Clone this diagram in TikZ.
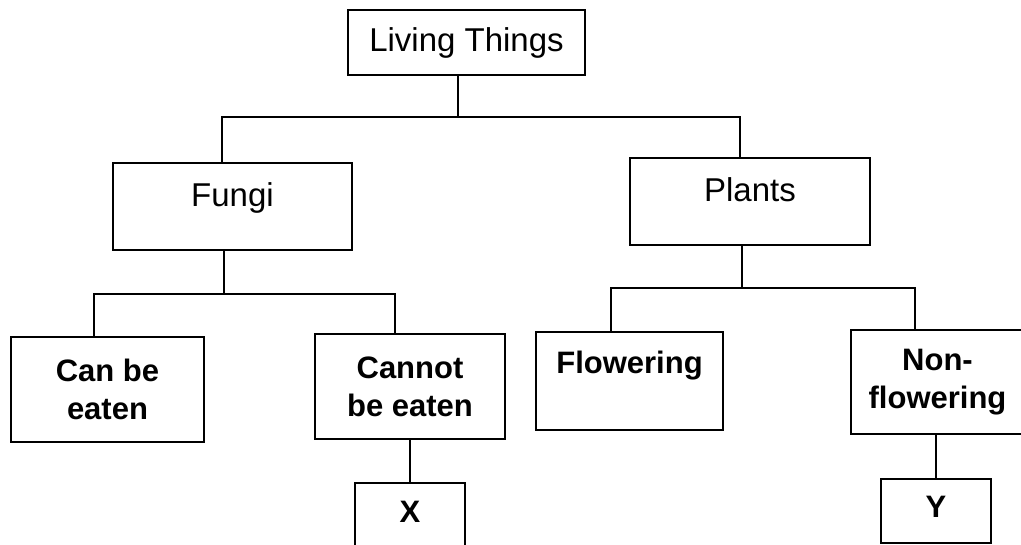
\documentclass[tikz,border=0pt]{standalone}
\usepackage{fontspec}
\setmainfont{Liberation Sans}
\begin{document}
\begin{tikzpicture}[x=1pt,y=-1pt,
  box/.style={draw, rectangle, line width=2.4pt, inner sep=0pt, align=center},
  toplevel/.style={font=\fontsize{33}{38}\selectfont},
  lowlevel/.style={font=\bfseries\fontsize{31}{38}\selectfont},
  link/.style={line width=2pt}]
\useasboundingbox (0,0) rectangle (1021,545);
\node[box,toplevel,minimum width=237,minimum height=65] (lt) at (466.5,42.5) {Living Things};
\node[box,toplevel,minimum width=239,minimum height=87,text height=24,text depth=24] (fungi) at (232.5,206.5) {Fungi};
\node[box,toplevel,minimum width=240,minimum height=87,text height=24,text depth=24] (plants) at (750,201.5) {Plants};
\node[box,lowlevel,minimum width=193,minimum height=105] (can) at (107.5,389.5) {Can be\\eaten};
\node[box,lowlevel,minimum width=190,minimum height=105] (cannot) at (410,386.5) {Cannot\\be eaten};
\node[box,lowlevel,minimum width=187,minimum height=98,text height=23,text depth=37] (flow) at (629.5,381) {Flowering};
\node[box,lowlevel,minimum width=173,minimum height=104] (non) at (937.5,382) {Non-\\flowering};
\node[box,lowlevel,minimum width=110,minimum height=64,text height=22,text depth=8] (x) at (410,515) {X};
\node[box,lowlevel,minimum width=110,minimum height=64,text height=22,text depth=10] (y) at (936,511) {Y};
\coordinate (j0) at (458,117);
\coordinate (j1) at (224,294);
\coordinate (j2) at (742,288);
\draw[link] (lt.south -| j0) -- (j0);
\draw[link] ([xshift=-10.5]fungi.north) |- (j0) -| ([xshift=-10]plants.north);
\draw[link] (fungi.south -| j1) -- (j1);
\draw[link] ([xshift=-13.5]can.north) |- (j1) -| ([xshift=-15]cannot.north);
\draw[link] (plants.south -| j2) -- (j2);
\draw[link] ([xshift=-18.5]flow.north) |- (j2) -| ([xshift=-22.5]non.north);
\draw[link] (cannot.south) -- (x.north);
\draw[link] (non.south -| y.north) -- (y.north);
\end{tikzpicture}
\end{document}
